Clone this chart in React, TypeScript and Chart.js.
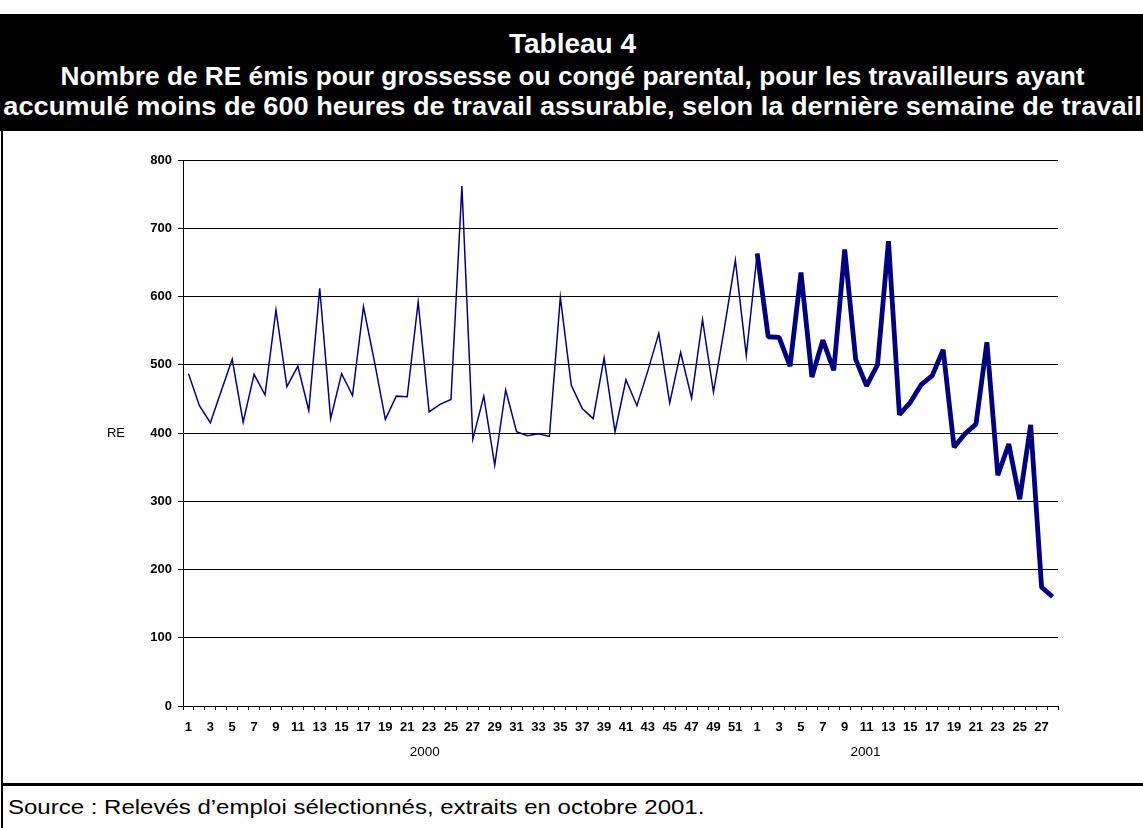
import React, { useEffect, useRef } from 'react';
import { Chart, registerables } from 'chart.js';

Chart.register(...registerables);

// ---- data ----
const weeks2000: string[] = Array.from({ length: 52 }, (_, i) => String(i + 1));
const weeks2001: string[] = Array.from({ length: 28 }, (_, i) => String(i + 1));
const yearLabels: string[] = ['2000', '2001'];
const values2000: number[] = [
  487, 440, 415, 462, 508, 416, 486, 456, 580, 468,
  498, 433, 612, 421, 487, 455, 585, 505, 420, 454,
  453, 592, 431, 442, 449, 762, 391, 454, 353, 463,
  402, 396, 399, 395, 599, 470, 436, 421, 510, 402,
  478, 440, 491, 546, 444, 518, 451, 566, 460, 554,
  653, 514,
];
const values2001: number[] = [
  663, 541, 540, 498, 635, 482, 536, 492, 669, 508,
  469, 500, 681, 427, 445, 471, 484, 522, 379, 399,
  413, 533, 338, 384, 303, 412, 174, 160,
];
const yMin = 0;
const yMax = 800;
const yStep = 100;

// where each year's group caption sits (category index, fractional)
const yearLabelAt: number[] = [21.6, 52 + 9.9];

const FONT = "'Liberation Sans', Arial, Helvetica, sans-serif";
const NAVY = '#000080';

export default function App() {
  const canvasRef = useRef<HTMLCanvasElement | null>(null);

  useEffect(() => {
    document.body.style.margin = '0';
    const canvas = canvasRef.current;
    if (!canvas) return;

    const labels = [...weeks2000, ...weeks2001];
    const thinData: (number | null)[] = [
      ...values2000,
      values2001[0],
      ...values2001.slice(1).map(() => null),
    ];
    const thickData: (number | null)[] = [
      ...values2000.map(() => null),
      ...values2001,
    ];

    const extras = {
      id: 'extras',
      afterDraw(chart: any) {
        const { ctx, chartArea, scales } = chart;
        const xs = scales.x;
        ctx.save();
        ctx.fillStyle = '#000';
        ctx.font = `13.5px ${FONT}`;
        ctx.textAlign = 'center';
        ctx.textBaseline = 'middle';
        yearLabels.forEach((lab, i) => {
          ctx.fillText(lab, xs.getPixelForValue(yearLabelAt[i]), chartArea.bottom + 46);
        });
        ctx.font = `13px ${FONT}`;
        ctx.fillText('RE', chartArea.left - 67, (chartArea.top + chartArea.bottom) / 2);
        ctx.restore();
      },
    };

    const chart = new Chart(canvas, {
      type: 'line',
      data: {
        labels,
        datasets: [
          {
            data: thinData,
            borderColor: NAVY,
            borderWidth: 1.5,
            pointRadius: 0,
            tension: 0,
            fill: false,
            borderJoinStyle: 'miter',
            spanGaps: false,
          },
          {
            data: thickData,
            borderColor: NAVY,
            borderWidth: 4.8,
            pointRadius: 0,
            tension: 0,
            fill: false,
            borderJoinStyle: 'bevel',
            spanGaps: false,
          },
        ],
      },
      options: {
        responsive: false,
        animation: false,
        devicePixelRatio: 1,
        layout: { padding: { left: 0, right: 85, top: 29, bottom: 30 } },
        plugins: {
          legend: { display: false },
          tooltip: { enabled: false },
          title: { display: false },
        },
        scales: {
          x: {
            type: 'category',
            offset: true,
            afterFit(s: any) {
              s.height = 49;
            },
            grid: {
              display: true,
              drawOnChartArea: false,
              drawTicks: true,
              tickLength: 4,
              offset: true,
              color: '#000',
              lineWidth: 1,
            },
            border: { display: true, color: '#000', width: 1 },
            ticks: {
              autoSkip: false,
              maxRotation: 0,
              minRotation: 0,
              padding: 10,
              color: '#000',
              font: { family: FONT, size: 13, weight: 'bold' },
              callback: function (this: any, value: any) {
                const l = this.getLabelForValue(value);
                return Number(l) % 2 === 1 ? l : '';
              },
            },
          },
          y: {
            min: yMin,
            max: yMax,
            afterFit(s: any) {
              s.width = 183;
            },
            grid: {
              color: '#000',
              lineWidth: 1,
              tickLength: 5,
              drawTicks: true,
            },
            border: { display: true, color: '#000', width: 1 },
            ticks: {
              stepSize: yStep,
              padding: 6,
              color: '#000',
              font: { family: FONT, size: 13, weight: 'bold' },
            },
          },
        },
      },
      plugins: [extras],
    });

    return () => chart.destroy();
  }, []);

  const sub: React.CSSProperties = {
    position: 'absolute',
    left: 0,
    width: '100%',
    fontSize: 25,
    lineHeight: '30px',
    whiteSpace: 'nowrap',
    transformOrigin: 'center',
  };

  return (
    <div
      style={{
        position: 'relative',
        width: 1143,
        height: 828,
        overflow: 'hidden',
        background: '#fff',
        fontFamily: FONT,
      }}
    >
      <div
        style={{
          position: 'absolute',
          top: 14,
          left: 0,
          width: 1145,
          height: 117,
          background: '#000',
          color: '#fff',
          textAlign: 'center',
          fontWeight: 'bold',
        }}
      >
        <div style={{ position: 'absolute', left: 0, width: '100%', top: 14, fontSize: 28, lineHeight: '32px' }}>
          Tableau 4
        </div>
        <div style={{ ...sub, top: 47, transform: 'scaleX(1.05)' }}>
          Nombre de RE émis pour grossesse ou congé parental, pour les travailleurs ayant
        </div>
        <div style={{ ...sub, top: 77, transform: 'scaleX(1.088)' }}>
          accumulé moins de 600 heures de travail assurable, selon la dernière semaine de travail
        </div>
      </div>

      <div
        style={{
          position: 'absolute',
          top: 131,
          left: 1,
          width: 1170,
          height: 655,
          boxSizing: 'border-box',
          borderLeft: '2px solid #000',
          borderBottom: '3px solid #000',
        }}
      />
      <div
        style={{
          position: 'absolute',
          top: 786,
          left: 1,
          width: 1170,
          height: 42,
          boxSizing: 'border-box',
          borderLeft: '2px solid #000',
        }}
      />

      <canvas
        ref={canvasRef}
        width={1143}
        height={654}
        style={{ position: 'absolute', top: 131, left: 0, width: 1143, height: 654, display: 'block' }}
      />

      <div
        style={{
          position: 'absolute',
          top: 795,
          left: 8,
          fontSize: 20,
          lineHeight: '24px',
          whiteSpace: 'nowrap',
          color: '#000',
          transform: 'scaleX(1.2)',
          transformOrigin: 'left',
        }}
      >
        Source : Relevés d’emploi sélectionnés, extraits en octobre 2001.
      </div>
    </div>
  );
}
